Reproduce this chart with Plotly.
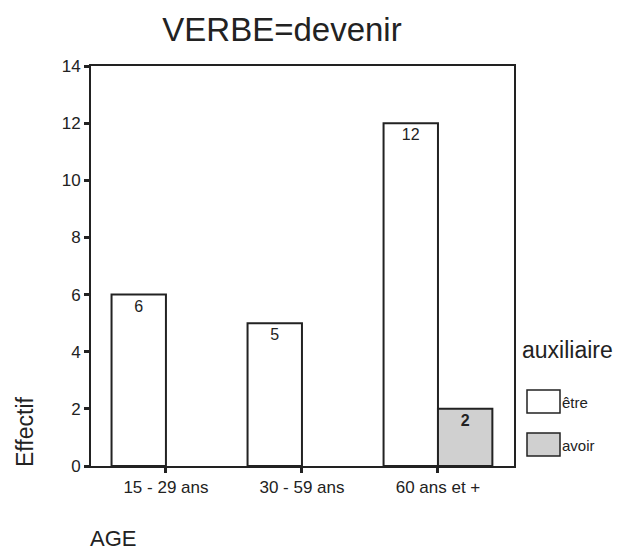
import plotly.graph_objects as go

categories = ["15 - 29 ans", "30 - 59 ans", "60 ans et +"]
etre = [6, 5, 12]
avoir = [None, None, 2]
y_ticks = [0, 2, 4, 6, 8, 10, 12, 14]
series_names = ["être", "avoir"]

FONT = "Liberation Sans, Arial, sans-serif"
INK = "#222"
L, R, T, B = 91, 104, 66, 88
W, H = 618, 554

fig = go.Figure()
fig.add_trace(go.Bar(
    x=categories, y=etre, name=series_names[0],
    marker=dict(color="white", line=dict(color=INK, width=2)),
    text=[str(v) for v in etre], textposition="inside", insidetextanchor="end",
    textfont=dict(family=FONT, size=16, color=INK), constraintext="none",
    showlegend=False,
))
fig.add_trace(go.Bar(
    x=categories, y=avoir, name=series_names[1],
    marker=dict(color="#d0d0d0", line=dict(color=INK, width=2)),
    text=["" if v is None else "<b>%d</b>" % v for v in avoir],
    textposition="inside", insidetextanchor="end",
    textfont=dict(family=FONT, size=16, color=INK), constraintext="none",
    showlegend=False,
))

fig.update_layout(
    width=W, height=H,
    margin=dict(l=L, r=R, t=T, b=B),
    paper_bgcolor="white", plot_bgcolor="white",
    barmode="group", bargap=0.2, bargroupgap=0,
    font=dict(family=FONT, color=INK),
    title=dict(text="VERBE=devenir", x=282 / W, xanchor="center", y=1 - 29 / H, yanchor="middle",
               font=dict(size=33, family=FONT, color=INK)),
    xaxis=dict(
        range=[-0.551, 2.559], showgrid=False, showline=True, linecolor=INK, linewidth=2,
        mirror=True, ticks="outside", ticklen=5, tickwidth=3, tickcolor=INK,
        tickfont=dict(size=17, family=FONT, color=INK),
    ),
    yaxis=dict(
        range=[0, 14], tickvals=y_ticks, showgrid=False, zeroline=False, showline=True,
        linecolor=INK, linewidth=2, mirror=True, ticks="outside", ticklen=5, tickwidth=3,
        tickcolor=INK, tickfont=dict(size=17, family=FONT, color=INK),
    ),
)

def px_x(px):
    return (px - L) / (W - L - R)

def px_y(py):
    return (H - B - py) / (H - T - B)

fig.add_annotation(text="Effectif", xref="paper", yref="paper", x=px_x(25), y=px_y(432),
                   xanchor="center", yanchor="middle",
                   showarrow=False, textangle=-90, font=dict(size=23, family=FONT, color=INK))
fig.add_annotation(text="AGE", xref="paper", yref="paper", x=px_x(113), y=px_y(553),
                   xanchor="center", yanchor="bottom",
                   showarrow=False, font=dict(size=22, family=FONT, color=INK))

# legend
fig.add_annotation(text="auxiliaire", xref="paper", yref="paper", x=px_x(520), y=px_y(350),
                   xanchor="left", yanchor="middle", showarrow=False,
                   font=dict(size=23, family=FONT, color=INK))
leg = [(series_names[0], "white", 390, 413), (series_names[1], "#d0d0d0", 433, 456)]
for name, col, y0, y1 in leg:
    fig.add_shape(type="rect", xref="paper", yref="paper", x0=px_x(527), x1=px_x(560),
                  y0=px_y(y1), y1=px_y(y0), fillcolor=col, line=dict(color=INK, width=1.5))
    fig.add_annotation(text=name, xref="paper", yref="paper", x=px_x(560), y=px_y((y0 + y1) / 2 + 1),
                       xanchor="left", yanchor="middle", showarrow=False,
                       font=dict(size=15, family=FONT, color=INK))

fig.write_html("out.html")
